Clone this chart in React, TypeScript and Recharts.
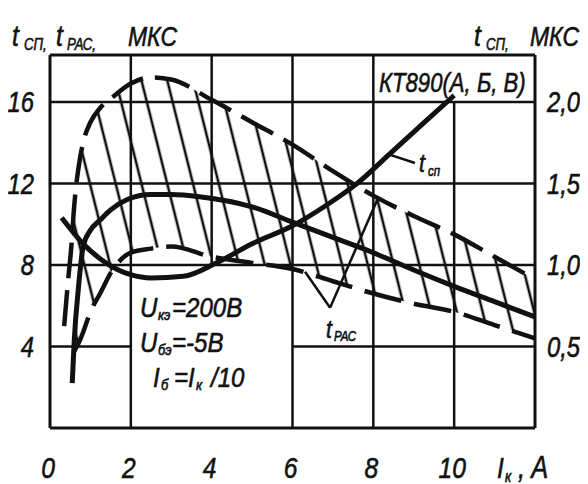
import React from 'react';
import { ComposedChart, Line, Area, XAxis, YAxis, ReferenceLine } from 'recharts';

// ---- data (I_к in A; times in мкс) ----
const bandX = [0.35, 0.45, 0.54, 0.58, 0.74, 0.82, 1.0, 1.24, 1.53, 2.0, 2.5, 3.0, 4.0, 5.0, 6.0, 7.0, 8.0, 9.0, 10.0, 11.0, 12.0];
const bandUpper = [5.0, 7.3, 9.2, 10.4, 13.2, 14.0, 15.0, 15.7, 16.2, 16.9, 17.2, 17.1, 16.1, 15.0, 13.9, 12.6, 11.4, 10.4, 9.5, 8.4, 7.3];
const bandLower = [null, null, null, 3.7, 4.3, 4.7, 5.7, 6.6, 7.7, 8.6, 8.8, 8.9, 8.4, 8.1, 7.8, 7.2, 6.6, 6.1, 5.7, 5.05, 4.4];

const tRasX = [0.55, 0.6, 0.7, 0.82, 1.0, 1.24, 1.5, 1.9, 2.5, 3.0, 3.7, 5.0, 6.0, 7.0, 8.0, 9.0, 10.0, 11.0, 12.0];
const tRasY = [2.2, 4.3, 6.8, 8.9, 9.7, 10.2, 10.7, 11.2, 11.45, 11.45, 11.35, 10.85, 10.1, 9.35, 8.6, 7.75, 6.95, 6.2, 5.45];

const tSpX = [0.29, 0.82, 1.4, 2.0, 2.5, 3.3, 4.1, 5.0, 6.0, 6.8, 7.6, 8.4, 9.2, 10.0];
const tSpY = [1.29, 1.13, 1.01, 0.94, 0.92, 0.93, 1.01, 1.13, 1.24, 1.36, 1.5, 1.68, 1.86, 2.04];

const xTicks = [0, 2, 4, 6, 8, 10];
const leftTicks = [4, 8, 12, 16];
const rightTicks = [0.5, 1.0, 1.5, 2.0];
const rightTickLabels = ['0,5', '1,0', '1,5', '2,0'];

const X_MAX = 12;
const Y_MAX = 18.3;
const RIGHT_MAX = Y_MAX / 8;

// grid segments (data units)
const vGrid = [
  { x: 2, y0: 0, y1: Y_MAX },
  { x: 4, y0: 8, y1: Y_MAX },
  { x: 6, y0: 0, y1: Y_MAX },
  { x: 8, y0: 0, y1: Y_MAX },
  { x: 10, y0: 0, y1: 16 },
  { x: 0, y0: 0, y1: Y_MAX },
  { x: 12, y0: 0, y1: Y_MAX },
];
const hGrid = [
  { y: 4, x0: 0, x1: 2 },
  { y: 4, x0: 6, x1: 12 },
  { y: 8, x0: 0, x1: 12 },
  { y: 12, x0: 0, x1: 12 },
  { y: 16, x0: 0, x1: 12 },
  { y: 0, x0: 0, x1: 12 },
  { y: Y_MAX, x0: 0, x1: 12 },
];
const leaders = [
  [{ x: 8.42, y: 13.4 }, { x: 9.03, y: 13.0 }],
  [{ x: 6.93, y: 5.9 }, { x: 6.31, y: 7.67 }],
  [{ x: 6.93, y: 5.9 }, { x: 8.12, y: 11.3 }],
];

const bandData = bandX.map((x, i) => ({ x, upper: bandUpper[i], lower: bandLower[i] }));
const bandArea = bandData
  .filter((d) => d.lower != null)
  .map((d) => ({ x: d.x, range: [d.lower as number, d.upper] }));
const tRasData = tRasX.map((x, i) => ({ x, y: tRasY[i] }));
const tSpData = tSpX.map((x, i) => ({ x, y: tSpY[i] }));

const FONT = "'Liberation Sans', Arial, sans-serif";
const INK = '#111';

const T = ({ x, y, size, sx = 0.82, anchor = 'start', dy, children }: any) => (
  <text
    transform={`translate(${x},${y}) scale(${sx},1)`}
    dy={dy}
    textAnchor={anchor}
    fontSize={size}
    fontFamily={FONT}
    fontStyle="italic"
    fill={INK}
    stroke={INK}
    strokeWidth={0.6}
  >
    {children}
  </text>
);

const LeftTick = (p: any) => (
  <T x={26} y={p.y} dy="0.36em" anchor="end" size={29}>
    {p.payload.value}
  </T>
);
const RightTick = (p: any) => {
  const i = rightTicks.indexOf(p.payload.value);
  return (
    <T x={539} y={p.y} dy="0.36em" size={29}>
      {rightTickLabels[i]}
    </T>
  );
};
const BottomTick = (p: any) => (
  <T x={p.x - 2} y={470} anchor="middle" size={30}>
    {p.payload.value}
  </T>
);

export default function App() {
  const W = 580;
  const H = 476;
  return (
    <div style={{ position: 'relative', width: W, height: H, background: '#fff' }}>
      <ComposedChart width={W} height={H} margin={{ top: 47, right: 0, bottom: 0, left: 0 }}>
        <defs>
          <pattern id="hatch" patternUnits="userSpaceOnUse" width="25" height="25" patternTransform="rotate(-14)">
            <line x1="12" y1="-2" x2="12" y2="27" stroke={INK} strokeWidth="2.6" />
          </pattern>
        </defs>
        <XAxis
          type="number"
          dataKey="x"
          domain={[0, X_MAX]}
          ticks={xTicks}
          allowDataOverflow
          height={56}
          axisLine={false}
          tickLine={false}
          tick={BottomTick}
          interval={0}
        />
        <YAxis
          yAxisId="left"
          type="number"
          domain={[0, Y_MAX]}
          ticks={leftTicks}
          allowDataOverflow
          width={42}
          axisLine={false}
          tickLine={false}
          tick={LeftTick}
          interval={0}
        />
        <YAxis
          yAxisId="right"
          orientation="right"
          type="number"
          domain={[0, RIGHT_MAX]}
          ticks={rightTicks}
          allowDataOverflow
          width={53}
          axisLine={false}
          tickLine={false}
          tick={RightTick}
          interval={0}
        />
        {vGrid.map((g, i) => (
          <ReferenceLine
            key={'v' + i}
            yAxisId="left"
            segment={[{ x: g.x, y: g.y0 }, { x: g.x, y: g.y1 }]}
            stroke={INK}
            strokeWidth={g.x === 0 || g.x === X_MAX ? 3 : 2.5}
            ifOverflow="visible"
          />
        ))}
        {hGrid.map((g, i) => (
          <ReferenceLine
            key={'h' + i}
            yAxisId="left"
            segment={[{ x: g.x0, y: g.y }, { x: g.x1, y: g.y }]}
            stroke={INK}
            strokeWidth={g.y === 0 || g.y === Y_MAX ? 3 : 2.5}
            ifOverflow="visible"
          />
        ))}
        <Area
          yAxisId="left"
          data={bandArea}
          dataKey="range"
          type="monotone"
          stroke="none"
          fill="url(#hatch)"
          fillOpacity={1}
          isAnimationActive={false}
          activeDot={false}
        />
        <Line
          yAxisId="left"
          data={bandData}
          dataKey="upper"
          type="monotone"
          stroke={INK}
          strokeWidth={4.5}
          strokeDasharray="36 12"
          dot={false}
          activeDot={false}
          isAnimationActive={false}
        />
        <Line
          yAxisId="left"
          data={bandData}
          dataKey="lower"
          type="monotone"
          stroke={INK}
          strokeWidth={4.5}
          strokeDasharray="38 13"
          dot={false}
          activeDot={false}
          isAnimationActive={false}
        />
        <Line
          yAxisId="left"
          data={tRasData}
          dataKey="y"
          type="monotone"
          stroke={INK}
          strokeWidth={5}
          dot={false}
          activeDot={false}
          isAnimationActive={false}
        />
        <Line
          yAxisId="right"
          data={tSpData}
          dataKey="y"
          type="monotone"
          stroke={INK}
          strokeWidth={5}
          dot={false}
          activeDot={false}
          isAnimationActive={false}
        />
        {leaders.map((s, i) => (
          <ReferenceLine key={'l' + i} yAxisId="left" segment={s} stroke={INK} strokeWidth={2.5} ifOverflow="visible" />
        ))}
      </ComposedChart>
      <svg
        width={W}
        height={H}
        style={{ position: 'absolute', left: 0, top: 0, pointerEvents: 'none' }}
      >
        {/* left title */}
        <T x={4} y={38} size={30}>t</T>
        <T x={16} y={42} size={16}>СП,</T>
        <T x={48} y={38} size={30}>t</T>
        <T x={59} y={42} size={16}>РАС,</T>
        <T x={120} y={38} size={28}>МКС</T>
        {/* right title */}
        <T x={466} y={38} size={30}>t</T>
        <T x={478} y={42} size={16}>СП,</T>
        <T x={522} y={38} size={28}>МКС</T>
        {/* device label */}
        <T x={371} y={84} size={27}>КТ890(А, Б, В)</T>
        {/* conditions */}
        <T x={132} y={309} size={28} sx={0.86}>U</T>
        <T x={150} y={312} size={15} sx={0.86}>кэ</T>
        <T x={164} y={309} size={28} sx={0.86}>=200В</T>
        <T x={132} y={344} size={28} sx={0.86}>U</T>
        <T x={150} y={347} size={15} sx={0.86}>бэ</T>
        <T x={164} y={344} size={28} sx={0.86}>=-5В</T>
        <T x={145} y={379} size={28} sx={0.86}>I</T>
        <T x={153} y={382} size={15} sx={0.86}>б</T>
        <T x={166} y={379} size={28} sx={0.86}>=I</T>
        <T x={188} y={382} size={15} sx={0.86}>к</T>
        <T x={203} y={379} size={28} sx={0.86}>/10</T>
        {/* curve labels */}
        <T x={411} y={164} size={26}>t</T>
        <T x={420} y={168} size={14}>сп</T>
        <T x={318} y={330} size={26}>t</T>
        <T x={326} y={333} size={14}>РАС</T>
        {/* x axis name */}
        <T x={489} y={470} size={30}>I</T>
        <T x={497} y={474} size={16}>к</T>
        <T x={510} y={470} size={31}>, A</T>
      </svg>
    </div>
  );
}
